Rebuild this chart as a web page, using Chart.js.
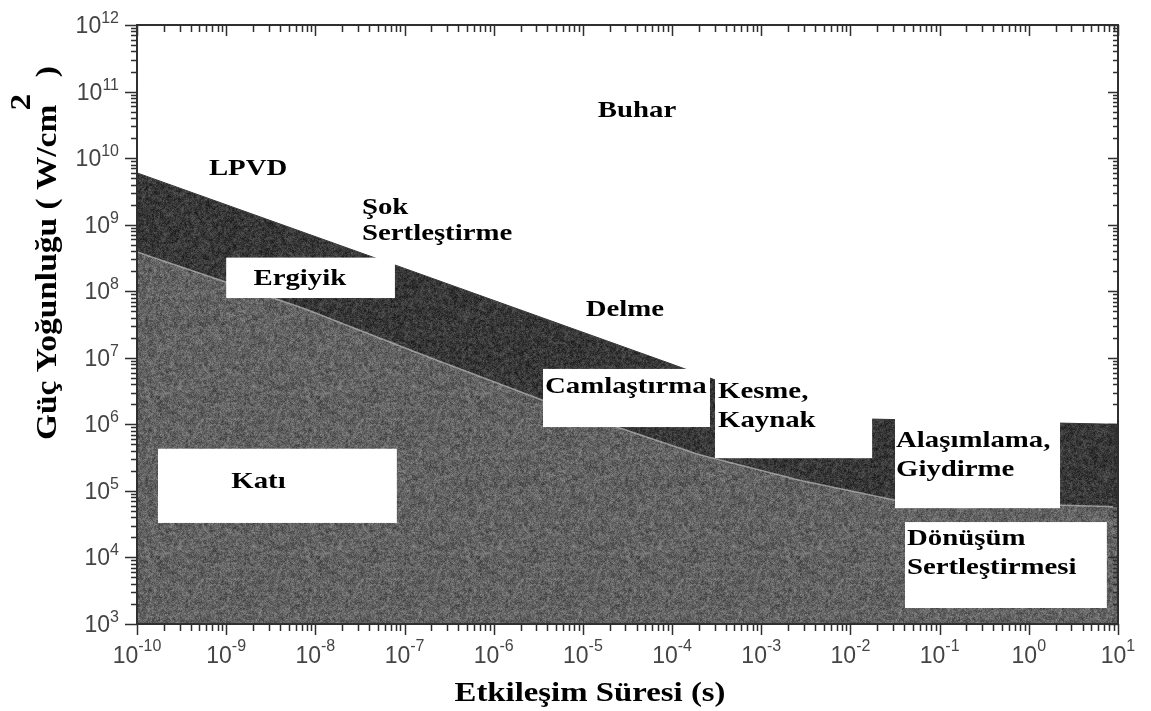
<!DOCTYPE html>
<html>
<head>
<meta charset="utf-8">
<script src="https://cdn.jsdelivr.net/npm/chart.js@4.4.1/dist/chart.umd.min.js"></script>
<style>
  html, body { margin: 0; padding: 0; background: #ffffff; }
  #wrap { width: 1151px; height: 711px; }
</style>
</head>
<body>
<div id="wrap"><canvas id="c" width="1151" height="711"></canvas></div>
<script>
// Upper limit of the melt (dark) band: interaction time (s) vs power density (W/cm²)
const meltTime  = [1e-10, 1e-7, 1e-4, 1.7e-2, 1.7e-2, 1e1];
const meltPower = [6e9, 2.2e8, 8e6, 6.5e5, 1.2e6, 1.0e6];

// Upper limit of the solid region
const solidTime  = [1e-10, 7.2e-9, 1.95e-7, 3.55e-6, 2.4e-5, 2.04e-4, 2.7e-3, 3.3e-2, 1e1];
const solidPower = [3.9e8, 5.6e7, 1.0e7, 2.3e6, 9.1e5, 3.5e5, 1.45e5, 7.2e4, 5.8e4];

// Decade exponents used for the tick labels
const xExponents = [-10, -9, -8, -7, -6, -5, -4, -3, -2, -1, 0, 1];
const yExponents = [3, 4, 5, 6, 7, 8, 9, 10, 11, 12];

// Process regions (white panels), given in seconds and W/cm²
const panels = [
  { t: [1.0e-9, 7.8e-8],    p: [7.9e7, 3.2e8] },   // Ergiyik
  { t: [1.72e-10, 8.2e-8],  p: [3.3e4, 4.3e5] },   // Katı
  { t: [3.57e-6, 2.66e-4],  p: [9.1e5, 6.8e6] },   // Camlaştırma
  { t: [3.03e-4, 1.75e-2],  p: [3.1e5, 6.8e6] },   // Kesme, Kaynak
  { t: [3.16e-2, 2.24],     p: [5.5e4, 1.4e6] },   // Alaşımlama, Giydirme
  { t: [4.09e-2, 7.5],      p: [1.74e3, 3.4e4] }   // Dönüşüm Sertleştirmesi
];

// Region names and their anchor (time, power density)
const regionLabels = [
  { lines: ['Buhar'],                      t: 4.05e-5, p: 4.15e10, align: 'center' },
  { lines: ['LPVD'],                       t: 1.76e-9, p: 5.6e9,   align: 'center' },
  { lines: ['Şok', 'Sertleştirme'],        t: 3.33e-8, p: 1.45e9,  align: 'left' },
  { lines: ['Ergiyik'],                    t: 6.7e-9,  p: 1.24e8,  align: 'center' },
  { lines: ['Delme'],                      t: 2.96e-5, p: 4.25e7,  align: 'center' },
  { lines: ['Camlaştırma'],                t: 3.76e-6, p: 2.96e6,  align: 'left' },
  { lines: ['Kesme,', 'Kaynak'],           t: 3.27e-4, p: 2.49e6,  align: 'left' },
  { lines: ['Alaşımlama,', 'Giydirme'],    t: 3.24e-2, p: 4.57e5,  align: 'left' },
  { lines: ['Dönüşüm', 'Sertleştirmesi'],  t: 4.3e-2,  p: 1.54e4,  align: 'left' },
  { lines: ['Katı'],                       t: 2.3e-9,  p: 1.1e5,   align: 'center' }
];

const SERIF = '"Liberation Serif", "Times New Roman", serif';
const SANS  = '"Liberation Sans", Arial, sans-serif';
const AXIS_COLOR = '#2f2f2f';
const TICK_TEXT = '#444444';

// Printed-paper grain for the shaded regions (seeded, repeatable):
// a fine speckle layered over a softer, coarser mottle
function grain(ctx, base, amp, seed) {
  const size = 160;
  let s = seed >>> 0;
  const rnd = () => { s = (Math.imul(s, 1664525) + 1013904223) >>> 0; return s / 4294967296 - 0.5; };

  const coarse = document.createElement('canvas');
  coarse.width = coarse.height = size / 2;
  const gc = coarse.getContext('2d');
  const ci = gc.createImageData(size / 2, size / 2);
  for (let i = 0; i < ci.data.length; i += 4) {
    const v = Math.max(0, Math.min(255, base + rnd() * amp * 0.7));
    ci.data[i] = ci.data[i + 1] = ci.data[i + 2] = v;
    ci.data[i + 3] = 255;
  }
  gc.putImageData(ci, 0, 0);

  const c = document.createElement('canvas');
  c.width = c.height = size;
  const g = c.getContext('2d');
  g.imageSmoothingEnabled = true;
  g.drawImage(coarse, 0, 0, size, size);
  const img = g.getImageData(0, 0, size, size);
  for (let i = 0; i < img.data.length; i += 4) {
    const v = Math.max(0, Math.min(255, img.data[i] + rnd() * amp * 0.6));
    img.data[i] = img.data[i + 1] = img.data[i + 2] = v;
  }
  g.putImageData(img, 0, 0);
  return ctx.createPattern(c, 'repeat');
}

const canvas = document.getElementById('c');
const ctx2d = canvas.getContext('2d');
const darkFill = grain(ctx2d, 56, 60, 12345);
const midFill = grain(ctx2d, 98, 70, 67890);

function toPoints(xs, ys) { return xs.map((x, i) => ({ x: x, y: ys[i] })); }

function wideText(ctx, text, x, y, align, sx) {
  ctx.save();
  ctx.translate(x, y);
  ctx.scale(sx, 1);
  ctx.textAlign = align;
  ctx.fillText(text, 0, 0);
  ctx.restore();
}

const decorations = {
  id: 'decorations',
  beforeDraw(chart) {
    const c = chart.ctx;
    c.save();
    c.fillStyle = '#ffffff';
    c.fillRect(0, 0, chart.width, chart.height);
    c.restore();
  },
  afterDatasetsDraw(chart) {
    const c = chart.ctx;
    const xs = chart.scales.x, ys = chart.scales.y;
    const area = chart.chartArea;

    // white panels
    c.save();
    c.fillStyle = '#ffffff';
    panels.forEach(b => {
      const x1 = xs.getPixelForValue(b.t[0]), x2 = xs.getPixelForValue(b.t[1]);
      const y1 = ys.getPixelForValue(b.p[1]), y2 = ys.getPixelForValue(b.p[0]);
      c.fillRect(x1, y1, x2 - x1, y2 - y1);
    });
    c.restore();

    // region names
    c.save();
    c.fillStyle = '#000000';
    c.font = 'bold 24px ' + SERIF;
    c.textBaseline = 'alphabetic';
    regionLabels.forEach(l => {
      const x = xs.getPixelForValue(l.t), y = ys.getPixelForValue(l.p);
      const lh = l.lines[0] === 'Şok' ? 26 : 29.5;
      l.lines.forEach((s, i) => wideText(c, s, x, y + i * lh, l.align, 1.2));
    });
    c.restore();

    // frame
    c.save();
    c.strokeStyle = AXIS_COLOR;
    c.lineWidth = 2;
    c.strokeRect(area.left, area.top, area.right - area.left, area.bottom - area.top);

    // ticks on all four sides
    c.lineWidth = 1.5;
    c.beginPath();
    for (let e = -10; e <= 1; e++) {
      for (let k = 1; k <= 9; k++) {
        const v = k * Math.pow(10, e);
        if (v > 10.0001) break;
        const px = Math.round(xs.getPixelForValue(v)) + 0.5;
        const major = k === 1;
        c.moveTo(px, area.bottom); c.lineTo(px, area.bottom + (major ? 11 : 7));
        c.moveTo(px, area.top); c.lineTo(px, area.top + (major ? 11 : 7));
      }
    }
    for (let e = 3; e <= 12; e++) {
      for (let k = 1; k <= 9; k++) {
        const v = k * Math.pow(10, e);
        if (v > 1.0001e12) break;
        const py = Math.round(ys.getPixelForValue(v)) + 0.5;
        const major = k === 1;
        c.moveTo(area.left, py); c.lineTo(area.left - (major ? 12 : 6), py);
        c.moveTo(area.right, py); c.lineTo(area.right - (major ? 10 : 5), py);
      }
    }
    c.stroke();
    c.restore();

    // tick labels: 10 with raised exponent
    c.save();
    c.fillStyle = TICK_TEXT;
    c.textBaseline = 'alphabetic';
    c.textAlign = 'left';
    const baseFont = '23px ' + SANS, expFont = '16px ' + SANS;
    xExponents.forEach(e => {
      const px = xs.getPixelForValue(Math.pow(10, e));
      c.font = baseFont; const w1 = c.measureText('10').width;
      c.font = expFont; const w2 = c.measureText(String(e)).width;
      const x0 = px - (w1 + w2) / 2;
      c.font = baseFont; c.fillText('10', x0, area.bottom + 39);
      c.font = expFont; c.fillText(String(e), x0 + w1, area.bottom + 27);
    });
    yExponents.forEach(e => {
      const py = ys.getPixelForValue(Math.pow(10, e));
      c.font = baseFont; const w1 = c.measureText('10').width;
      c.font = expFont; const w2 = c.measureText(String(e)).width;
      const x0 = area.left - 18 - (w1 + w2);
      c.font = baseFont; c.fillText('10', x0, py + 8);
      c.font = expFont; c.fillText(String(e), x0 + w1, py - 2);
    });
    c.restore();

    // axis titles
    c.save();
    c.fillStyle = '#000000';
    c.textBaseline = 'alphabetic';
    c.font = 'bold 27px ' + SERIF;
    const xt = 'Etkileşim Süresi (s)';
    const xw = c.measureText(xt).width;
    wideText(c, xt, 590, 701, 'center', 271 / xw);

    // vertical title with squared unit
    const partA = 'Güç Yoğunluğu ( W/cm', partB = '2', partC = '  )';
    c.font = 'bold 30px ' + SERIF;
    const wa = c.measureText(partA).width, wb = c.measureText(partB).width, wc = c.measureText(partC).width;
    const back = wb * 0.35;
    const total = wa + wb - back + wc;
    c.translate(56, 440);
    c.rotate(-Math.PI / 2);
    c.scale(374 / total, 1);
    c.textAlign = 'left';
    c.fillText(partA, 0, 0);
    c.fillText(partB, wa - back, -26);
    c.fillText(partC, wa + wb - back, 0);
    c.restore();
  }
};

new Chart(canvas, {
  type: 'line',
  data: {
    datasets: [
      {
        label: 'Katı',
        data: toPoints(solidTime, solidPower),
        backgroundColor: midFill,
        borderColor: 'rgba(205,205,205,0.6)',
        borderWidth: 1.5,
        pointRadius: 0,
        tension: 0,
        fill: 'start'
      },
      {
        label: 'Ergiyik',
        data: toPoints(meltTime, meltPower),
        backgroundColor: darkFill,
        borderColor: 'rgba(55,55,55,1)',
        borderWidth: 1,
        pointRadius: 0,
        tension: 0,
        fill: 'start'
      }
    ]
  },
  options: {
    responsive: false,
    animation: false,
    events: [],
    layout: { padding: { left: 137, right: 33, top: 25, bottom: 87 } },
    plugins: { legend: { display: false }, tooltip: { enabled: false } },
    scales: {
      x: { type: 'logarithmic', min: 1e-10, max: 1e1, display: false },
      y: { type: 'logarithmic', min: 1e3, max: 1e12, display: false }
    }
  },
  plugins: [decorations]
});
</script>
</body>
</html>
